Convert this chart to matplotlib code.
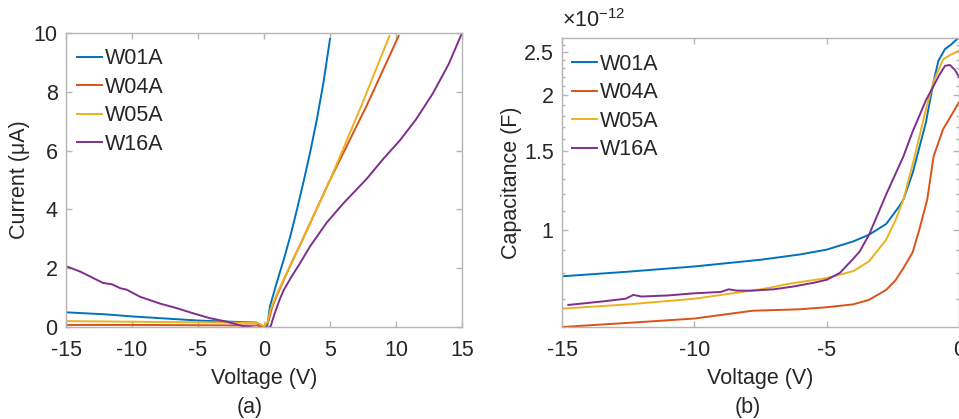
# I-V and C-V curves for four wafers, (a) current and (b) capacitance

import matplotlib
matplotlib.use("Agg")
import matplotlib.pyplot as plt
from matplotlib.ticker import FixedLocator, NullFormatter

plt.rcParams['font.family'] = ['Liberation Sans', 'DejaVu Sans']
plt.rcParams['mathtext.default'] = 'regular'

names = ['W01A', 'W04A', 'W05A', 'W16A']
colors = ['#0072BD', '#D95319', '#EDB120', '#7E2F8E']

# (a) current in uA vs voltage in V
iv_v_w01a = [-15, -12, -10, -7.5, -5, -2.5, -0.55, -0.3, 0.0, 0.25, 0.33, 0.45, 0.96, 1.5, 2.0, 2.5, 3.0, 3.5,
             4.0, 4.5, 5.0]
iv_i_w01a = [0.5, 0.43, 0.36, 0.29, 0.22, 0.18, 0.15, 0.02, 0.0, 0.05, 0.3, 0.7, 1.5, 2.3, 3.1, 4.0, 4.95, 5.95,
             7.05, 8.3, 9.8]
iv_v_w04a = [-15, -10, -5, -0.5, -0.2, 0.0, 0.35, 0.6, 1.0, 2.0, 3.0, 5.0, 7.8, 10.2]
iv_i_w04a = [0.07, 0.07, 0.06, 0.05, 0.02, 0.0, 0.2, 0.65, 1.1, 2.1, 3.05, 5.0, 7.55, 9.9]
iv_v_w05a = [-15, -10, -5, -0.5, -0.3, 0.0, 0.3, 0.5, 1.0, 2.0, 3.0, 5.0, 7.4, 9.5]
iv_i_w05a = [0.2, 0.18, 0.16, 0.14, 0.1, 0.02, 0.2, 0.6, 1.15, 2.1, 3.05, 5.0, 7.55, 9.9]
iv_v_w16a = [-15, -13.9, -12.2, -11.5, -10.9, -10.4, -9.4, -7.9, -6.6, -5.4, -4.1, -2.8, -1.6, -0.55, 0.2, 0.5,
             0.8, 1.2, 1.5, 2.0, 2.7, 3.5, 4.75, 6.0, 7.8, 9.0, 10.3, 11.5, 12.8, 14.0, 15]
iv_i_w16a = [2.07, 1.88, 1.5, 1.45, 1.32, 1.27, 1.03, 0.8, 0.64, 0.47, 0.3, 0.18, 0.03, -0.04, -0.04, 0.02,
             0.45, 0.95, 1.26, 1.65, 2.15, 2.75, 3.55, 4.2, 5.05, 5.7, 6.35, 7.05, 7.95, 8.95, 10.0]

# (b) capacitance in pF vs voltage in V
cv_v_w01a = [-15, -12.5, -10, -7.5, -6, -5, -4, -3.4, -2.75, -2.25, -2.1, -1.75, -1.25, -0.96, -0.78, -0.53, -0.3, 0]
cv_c_w01a = [0.786, 0.805, 0.827, 0.856, 0.88, 0.902, 0.941, 0.974, 1.03, 1.13, 1.168, 1.34, 1.74, 2.15, 2.39,
             2.54, 2.6, 2.7]
cv_v_w04a = [-15, -12.5, -10, -7.8, -6, -5, -4, -3.4, -2.75, -2.4, -2.1, -1.75, -1.5, -1.2, -0.96, -0.6, -0.3, 0]
cv_c_w04a = [0.605, 0.618, 0.632, 0.658, 0.663, 0.67, 0.68, 0.696, 0.733, 0.77, 0.82, 0.89, 1.0, 1.168, 1.46,
             1.68, 1.8, 1.93]
cv_v_w05a = [-15, -12.5, -10, -7.5, -7.0, -6.5, -5, -4, -3.4, -2.75, -2.4, -2.1, -1.7, -1.25, -0.96, -0.6, -0.3, 0]
cv_c_w05a = [0.665, 0.68, 0.7, 0.735, 0.744, 0.755, 0.779, 0.807, 0.849, 0.95, 1.05, 1.168, 1.44, 1.86, 2.15,
             2.41, 2.47, 2.52]
cv_v_w16a = [-14.76, -13.5, -12.6, -12.3, -12.0, -11, -10, -9, -8.7, -8.4, -7.8, -7, -6.3, -5.5, -5, -4.5, -4.0,
             -3.75, -3.4, -2.75, -2.1, -1.75, -1.25, -0.96, -0.75, -0.53, -0.34, -0.15, 0]
cv_c_w16a = [0.678, 0.69, 0.7, 0.714, 0.708, 0.712, 0.72, 0.725, 0.735, 0.73, 0.73, 0.735, 0.745, 0.76, 0.772,
             0.8, 0.86, 0.894, 0.974, 1.2, 1.46, 1.66, 1.95, 2.1, 2.22, 2.33, 2.34, 2.28, 2.2]

iv_x_ticks = [-15, -10, -5, 0, 5, 10, 15]
iv_y_ticks = [0, 2, 4, 6, 8, 10]
cv_x_ticks = [-15, -10, -5, 0]
cv_y_ticks = [1, 1.5, 2, 2.5]
cv_y_minor = [0.6, 0.7, 0.8, 0.9, 1.1, 1.2, 1.3, 1.4, 1.6, 1.7, 1.8, 1.9, 2.1, 2.2, 2.3, 2.4, 2.6]

TEXT = '#262626'
SPINE = '#b5b5b5'
FS = 15.5


def style_axes(ax):
    for s in ax.spines.values():
        s.set_color(SPINE)
        s.set_linewidth(1.0)
    ax.tick_params(which='both', direction='in', top=True, right=True, color=SPINE,
                   labelcolor=TEXT, labelsize=FS, width=1.0)
    ax.tick_params(which='major', length=4)
    ax.tick_params(which='minor', length=2.5)
    ax.tick_params(axis='x', pad=9)
    ax.tick_params(axis='y', pad=6)


def add_legend(ax, anchor):
    ax.legend(loc='upper left', bbox_to_anchor=anchor, frameon=False, fontsize=FS,
              handlelength=1.16, handletextpad=0.14, labelspacing=0.35,
              borderpad=0, borderaxespad=0, labelcolor=TEXT)


fig = plt.figure(figsize=(9.59, 4.19), dpi=100)

# panel (a)
ax1 = fig.add_axes([66 / 959, 92 / 419, 396 / 959, 294 / 419])
iv_v = [iv_v_w01a, iv_v_w04a, iv_v_w05a, iv_v_w16a]
iv_i = [iv_i_w01a, iv_i_w04a, iv_i_w05a, iv_i_w16a]
for v, i, name, c in zip(iv_v, iv_i, names, colors):
    ax1.plot(v, i, color=c, lw=1.4, label=name)
ax1.set_xlim(-15, 15)
ax1.set_ylim(0, 10)
ax1.set_xticks(iv_x_ticks)
ax1.set_xticklabels([str(t) for t in iv_x_ticks])
ax1.set_yticks(iv_y_ticks)
style_axes(ax1)
ax1.set_xlabel('Voltage (V)', fontsize=FS, color=TEXT)
ax1.set_ylabel('Current (μA)', fontsize=FS, color=TEXT)
ax1.xaxis.set_label_coords(0.5, -0.139)
ax1.yaxis.set_label_coords(-0.091, 0.5)
add_legend(ax1, (0.028, 0.948))

# panel (b)
ax2 = fig.add_axes([562 / 959, 92 / 419, 397 / 959, 289 / 419])
cv_v = [cv_v_w01a, cv_v_w04a, cv_v_w05a, cv_v_w16a]
cv_c = [cv_c_w01a, cv_c_w04a, cv_c_w05a, cv_c_w16a]
for v, cap, name, c in zip(cv_v, cv_c, names, colors):
    ax2.plot(v, [x * 1e-12 for x in cap], color=c, lw=1.4, label=name)
ax2.set_yscale('log')
ax2.set_xlim(-15, 0)
ax2.set_ylim(0.605e-12, 2.69e-12)
ax2.set_xticks(cv_x_ticks)
ax2.set_xticklabels([str(t) for t in cv_x_ticks])
ax2.yaxis.set_major_locator(FixedLocator([t * 1e-12 for t in cv_y_ticks]))
ax2.yaxis.set_minor_locator(FixedLocator([t * 1e-12 for t in cv_y_minor]))
ax2.set_yticklabels([('%g' % t) for t in cv_y_ticks])
ax2.yaxis.set_minor_formatter(NullFormatter())
style_axes(ax2)
ax2.set_xlabel('Voltage (V)', fontsize=FS, color=TEXT)
ax2.set_ylabel('Capacitance (F)', fontsize=FS, color=TEXT)
ax2.xaxis.set_label_coords(0.5, -0.142)
ax2.yaxis.set_label_coords(-0.10, 0.5)
ax2.text(0.0, 1.02, r'$\times10^{-12}$', transform=ax2.transAxes, fontsize=FS, color=TEXT,
         ha='left', va='bottom')
add_legend(ax2, (0.025, 0.945))

fig.text(250 / 959, 1 - 407 / 419, '(a)', fontsize=FS, color=TEXT, ha='center', va='center')
fig.text(748 / 959, 1 - 407 / 419, '(b)', fontsize=FS, color=TEXT, ha='center', va='center')

fig.savefig('out.png', dpi=100)
